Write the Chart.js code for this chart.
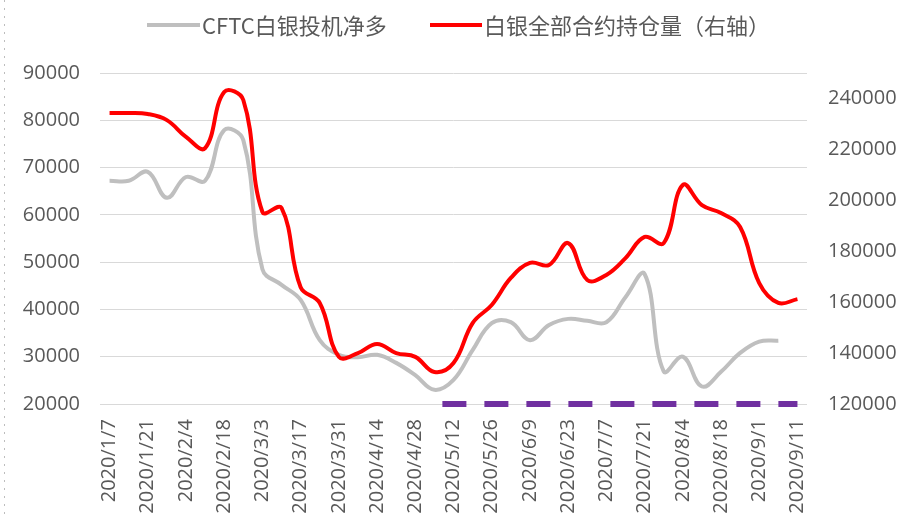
<!DOCTYPE html>
<html lang="zh">

<head>
    <meta charset="UTF-8">
    <title>CFTC白银投机净多 与 白银全部合约持仓量</title>
    <script src="https://cdn.jsdelivr.net/npm/chart.js"></script>
    <style>
        body {
            margin: 0;
            padding: 0;
            background-color: #fff;
        }

        .wrap {
            position: relative;
            width: 902px;
            height: 518px;
        }

        /* dotted frame edge on the left, as in the screenshot */
        .edge {
            position: absolute;
            left: 4px;
            top: 0;
            width: 1px;
            height: 518px;
            background: repeating-linear-gradient(to bottom, #bdbdbd 0 2px, transparent 2px 8px);
        }

        .legend {
            position: absolute;
            top: 0;
            left: 0;
            font-family: 'Noto Sans CJK SC', sans-serif;
            font-size: 22px;
            color: #595959;
        }

        .legend .line {
            position: absolute;
            height: 4px;
            top: 23px;
        }

        .legend .txt {
            position: absolute;
            top: 11px;
            line-height: 26px;
            white-space: nowrap;
        }
    </style>
</head>

<body>
    <div class="wrap">
        <canvas id="myChart"></canvas>
        <div class="edge"></div>
        <div class="legend">
            <div class="line" style="left:147px;width:53px;background:#bfbfbf"></div>
            <div class="txt" style="left:202px">CFTC白银投机净多</div>
            <div class="line" style="left:430px;width:52px;background:#ff0000"></div>
            <div class="txt" style="left:484px">白银全部合约持仓量（右轴）</div>
        </div>
    </div>

    <script>
        // weekly dates (label shown every other week)
        const dates = [
            '2020/1/7', '2020/1/14', '2020/1/21', '2020/1/28', '2020/2/4', '2020/2/11',
            '2020/2/18', '2020/2/25', '2020/3/3', '2020/3/10', '2020/3/17', '2020/3/24',
            '2020/3/31', '2020/4/7', '2020/4/14', '2020/4/21', '2020/4/28', '2020/5/5',
            '2020/5/12', '2020/5/19', '2020/5/26', '2020/6/2', '2020/6/9', '2020/6/16',
            '2020/6/23', '2020/6/30', '2020/7/7', '2020/7/14', '2020/7/21', '2020/7/28',
            '2020/8/4', '2020/8/11', '2020/8/18', '2020/8/25', '2020/9/1', '2020/9/8',
            '2020/9/11'
        ];

        // CFTC 白银投机净多 (left axis)
        const netLong = [
            67200, 67200, 69100, 63600, 68000, 67200, 77900, 75800, 48500, 45200,
            42000, 33500, 30400, 29900, 30400, 28700, 26100, 23000, 25100, 31400,
            37100, 37300, 33500, 36700, 38000, 37600, 37300, 42600, 47500, 26900,
            30000, 23700, 26800, 30800, 33200, 33400, null
        ];

        // 白银全部合约持仓量 (right axis)
        const openInterest = [
            234300, 234300, 233900, 231500, 224900, 220500, 242500, 239400, 195400, 197000,
            165900, 159700, 138500, 140000, 143600, 140000, 138500, 132600, 136100, 151800,
            158900, 169500, 175400, 174600, 183200, 168700, 170700, 177300, 185600, 183200,
            206000, 198100, 195000, 189500, 167500, 159700, 161200
        ];

        // purple dashed marker along the bottom, from 2020/5/5 on
        const baseMark = dates.map((d, i) => i >= 17 ? 20000 : null);

        // axis tick values
        const leftTickValues = [20000, 30000, 40000, 50000, 60000, 70000, 80000, 90000];
        const rightTickValues = [120000, 140000, 160000, 180000, 200000, 220000, 240000];

        const tickFont = { family: "'Open Sans', sans-serif", size: 20 };
        const tickColor = '#595959';

        const ctx = document.getElementById('myChart').getContext('2d');
        const chart = new Chart(ctx, {
            type: 'line',
            data: {
                labels: dates,
                datasets: [{
                    label: '白银全部合约持仓量（右轴）',
                    data: openInterest,
                    yAxisID: 'y1',
                    borderColor: '#ff0000',
                    borderWidth: 4,
                    pointRadius: 0,
                    tension: 0.4,
                    order: 1
                }, {
                    label: 'CFTC白银投机净多',
                    data: netLong,
                    yAxisID: 'y',
                    borderColor: '#bfbfbf',
                    borderWidth: 4,
                    pointRadius: 0,
                    tension: 0.4,
                    order: 2
                }, {
                    label: '',
                    data: baseMark,
                    yAxisID: 'y',
                    borderColor: '#7030a0',
                    borderWidth: 6,
                    borderDash: [24, 18],
                    borderDashOffset: 34,
                    borderCapStyle: 'butt',
                    pointRadius: 0,
                    clip: false,
                    order: 0
                }]
            },
            options: {
                responsive: true,
                maintainAspectRatio: false,
                animation: false,
                layout: {
                    padding: { top: 73, left: 0, right: 0, bottom: 0 }
                },
                plugins: {
                    legend: { display: false },
                    tooltip: { enabled: false }
                },
                scales: {
                    x: {
                        offset: true,
                        grid: { display: false, drawTicks: false },
                        border: { display: false },
                        ticks: {
                            autoSkip: false,
                            minRotation: 90,
                            maxRotation: 90,
                            padding: 15,
                            color: tickColor,
                            font: tickFont,
                            callback: function(value, index) {
                                return index % 2 === 0 ? dates[index] : '';
                            }
                        },
                        afterFit: function(scale) {
                            scale.height = 114;
                        }
                    },
                    y: {
                        position: 'left',
                        min: 20000,
                        max: 90000,
                        grid: { color: '#d9d9d9', lineWidth: 1, drawTicks: false },
                        border: { display: false },
                        ticks: {
                            padding: 20,
                            color: tickColor,
                            font: tickFont,
                            callback: function(value) {
                                return String(value);
                            }
                        },
                        afterBuildTicks: function(scale) {
                            scale.ticks = leftTickValues.map(v => ({ value: v }));
                        },
                        afterFit: function(scale) {
                            scale.width = 100;
                        }
                    },
                    y1: {
                        position: 'right',
                        min: 120000,
                        max: 250000,
                        grid: { display: false, drawTicks: false },
                        border: { display: false },
                        ticks: {
                            padding: 21,
                            color: tickColor,
                            font: tickFont,
                            callback: function(value) {
                                return String(value);
                            }
                        },
                        afterBuildTicks: function(scale) {
                            scale.ticks = rightTickValues.map(v => ({ value: v }));
                        },
                        afterFit: function(scale) {
                            scale.width = 95;
                        }
                    }
                }
            }
        });
    </script>
</body>

</html>
